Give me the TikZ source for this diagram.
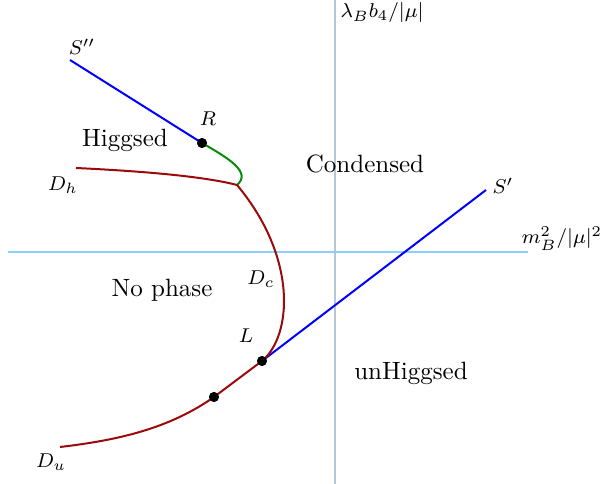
\documentclass[tikz,border=0pt]{standalone}
\usepackage{amsmath,amssymb}
\usepackage{xcolor}
\usetikzlibrary{arrows.meta,calc,positioning}
\definecolor{axisblue}{HTML}{8CCFFF}
\definecolor{axisgray}{HTML}{B4C8D8}
\definecolor{phasered}{HTML}{9A0A0A}
\definecolor{phasegreen}{HTML}{0A8A0A}
\tikzset{
  axisline/.style={axisblue, line width=0.5pt},
  axislinev/.style={axisgray, line width=0.5pt},
  sline/.style={blue, line width=0.8pt},
  dline/.style={phasered, line width=0.8pt},
  rline/.style={phasegreen, line width=0.8pt},
  dot/.style={circle, fill=black, inner sep=1.4pt},
  lbl/.style={font=\footnotesize, inner sep=0.5pt},
  region/.style={inner sep=1pt}
}
\begin{document}
\begin{tikzpicture}[x=0.4pt, y=-0.4pt]
  \useasboundingbox (0,0) rectangle (601,484);
  % axes
  \coordinate (xl) at (8,252);
  \coordinate (xr) at (528,252);
  \coordinate (yt) at (335,0);
  \coordinate (yb) at (335,484);
  \draw[axislinev] (yt) -- (yb);
  \draw[axisline] (xl) -- (xr);
  \node[lbl] (xlab) at (562,239) {$m_B^2/|\mu|^2$};
  \node[lbl] (ylab) at (382,13) {$\lambda_B b_4/|\mu|$};
  % special points
  \node[dot] (R) at (202,143) {};
  \node[dot] (L) at (262,361) {};
  \node[dot] (M) at (214,397) {};
  \coordinate (T) at (237,185);
  \coordinate (Spp) at (70,60);
  \coordinate (Sp) at (486,190);
  \coordinate (Dh) at (76,168);
  \coordinate (Du) at (60,447);
  % lines
  \draw[sline] (Spp) -- (R.center);
  \draw[sline] (L.center) -- (Sp);
  \draw[rline] (R.center) .. controls (228,158) and (252,172) .. (T);
  \draw[dline] (Dh) .. controls (160,172) and (210,178) .. (T);
  \draw[dline] (T) .. controls (298,258) and (292,336) .. (L.center);
  \draw[dline] (L.center) -- (M.center);
  \draw[dline] (M.center) .. controls (170,428) and (120,440) .. (Du);
  % redraw dots on top
  \node[dot] at (R) {};
  \node[dot] at (L) {};
  \node[dot] at (M) {};
  % labels
  \node[lbl] (lSpp) at (82,47) {$S''$};
  \node[lbl] (lR) at (208,119) {$R$};
  \node[lbl] (lDh) at (63,185) {$D_h$};
  \node[lbl] (lSp) at (503,186) {$S'$};
  \node[lbl] (lDc) at (261,279) {$D_c$};
  \node[lbl] (lL) at (246,336) {$L$};
  \node[lbl] (lDu) at (51,462) {$D_u$};
  \node[region] (higgsed) at (125,140) {Higgsed};
  \node[region] (condensed) at (365,164) {Condensed};
  \node[region] (nophase) at (162,290) {No phase};
  \node[region] (unhiggsed) at (411,373) {unHiggsed};
\end{tikzpicture}
\end{document}
